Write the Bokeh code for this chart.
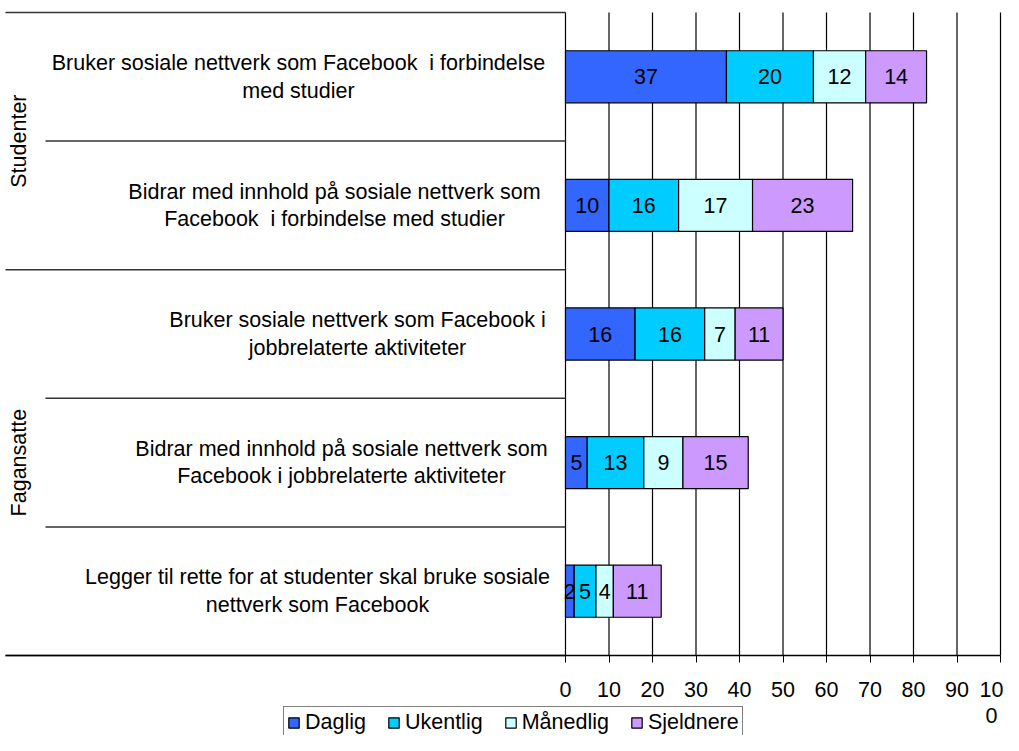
import math
from bokeh.plotting import figure
from bokeh.models import (Range1d, FixedTicker, Label, ColumnDataSource, Legend,
                          LegendItem)
from bokeh.embed import file_html
from bokeh.resources import INLINE
from bokeh.core.properties import value

# ---------------- data ----------------
groups = ["Studenter", "Fagansatte"]
group_sizes = [2, 3]
questions = [
    "Bruker sosiale nettverk som Facebook\u00a0 i forbindelse\nmed studier",
    "Bidrar med innhold på sosiale nettverk som\nFacebook\u00a0 i forbindelse med studier",
    "Bruker sosiale nettverk som Facebook i\njobbrelaterte aktiviteter",
    "Bidrar med innhold på sosiale nettverk som\nFacebook i jobbrelaterte aktiviteter",
    "Legger til rette for at studenter skal bruke sosiale\nnettverk som Facebook",
]
series = ["Daglig", "Ukentlig", "Månedlig", "Sjeldnere"]
daglig = [37, 10, 16, 5, 2]
ukentlig = [20, 16, 16, 13, 5]
manedlig = [12, 17, 7, 9, 4]
sjeldnere = [14, 23, 11, 15, 11]
x_ticks = [0, 10, 20, 30, 40, 50, 60, 70, 80, 90, 100]
x_tick_labels = ["0", "10", "20", "30", "40", "50", "60", "70", "80", "90", "10\n0"]

# ---------------- style / layout ----------------
colors = ["#3366FF", "#00CCFF", "#CCFFFF", "#CC99FF"]
FONT = "Liberation Sans"
FS = "21.5px"
W, H = 1003, 735
ZERO_PX = 565      # canvas x of value 0
PLOT_PX = 435      # px from 0 to 100
TOP_PX = 12        # canvas y of top of first row
ROW_PX = 128.6     # height of one row
n = len(questions)
ppx = PLOT_PX / 100.0
x_start = -ZERO_PX / ppx
x_end = (W - ZERO_PX) / ppx
y_top = n - 0.5 + TOP_PX / ROW_PX
y_bot = n - 0.5 - H / ROW_PX + TOP_PX / ROW_PX

values = [daglig, ukentlig, manedlig, sjeldnere]
ys = [n - 1 - i for i in range(n)]

data = {"y": ys}
for s, v in zip(series, values):
    data[s] = v
source = ColumnDataSource(data)

p = figure(width=W, height=H, output_backend="svg", toolbar_location=None,
           x_range=Range1d(x_start, x_end), y_range=Range1d(y_bot, y_top),
           y_axis_location=None, min_border=0)
p.outline_line_color = None
p.background_fill_color = "white"
p.border_fill_color = "white"
p.xgrid.visible = False
p.ygrid.visible = False

# x axis, drawn at the bottom of the last row
ax = p.xaxis[0]
ax.fixed_location = -0.5
ax.bounds = (x_start + 5 / ppx, 100)
ax.ticker = FixedTicker(ticks=x_ticks)
ax.major_label_overrides = {t: l for t, l in zip(x_ticks, x_tick_labels)}
ax.axis_line_color = "black"
ax.axis_line_width = 1.3
ax.major_tick_line_color = "black"
ax.major_tick_out = 7
ax.major_tick_in = 0
ax.minor_tick_line_color = None
ax.major_label_text_font = FONT
ax.major_label_text_font_size = FS
ax.major_label_text_color = "black"
ax.major_label_text_line_height = 1.1
ax.major_label_standoff = 15

# vertical grid lines from the ticks
p.segment(x0=x_ticks, x1=x_ticks, y0=[-0.5] * len(x_ticks), y1=[n - 0.5] * len(x_ticks),
          line_color="black", line_width=1.2)

# bars
renderers = p.hbar_stack(series, y="y", height=0.405, color=colors, source=source,
                         line_color="black", line_width=1.2)

# value labels
for k, s in enumerate(series):
    lefts = [sum(values[j][i] for j in range(k)) for i in range(n)]
    cx = [l + v / 2 for l, v in zip(lefts, values[k])]
    p.text(x=cx, y=ys, text=[str(v) for v in values[k]], text_font=value(FONT),
           text_font_size=FS, text_color="black", text_align="center",
           text_baseline="middle")

# table lines at left
full_x0 = x_start + 5 / ppx
short_x0 = x_start + 45 / ppx
bounds_full = [n - 0.5]
bounds_short = []
acc = 0
for gi, gs in enumerate(group_sizes):
    for r in range(1, gs):
        bounds_short.append(n - 0.5 - (acc + r))
    acc += gs
    if gi < len(group_sizes) - 1:
        bounds_full.append(n - 0.5 - acc)
bounds_full.append(-0.5)
p.segment(x0=[full_x0] * len(bounds_full), x1=[0] * len(bounds_full),
          y0=bounds_full, y1=bounds_full, line_color="#333333", line_width=1.5)
p.segment(x0=[short_x0] * len(bounds_short), x1=[0] * len(bounds_short),
          y0=bounds_short, y1=bounds_short, line_color="#333333", line_width=1.5)

# question labels
label_cx = [298, 334, 357, 341, 317]
for q, y, cxs in zip(questions, ys, label_cx):
    p.add_layout(Label(x=cxs, x_units="screen", y=y, y_units="data", text=q,
                       text_font=FONT, text_font_size=FS, text_color="black",
                       text_align="center", text_baseline="middle",
                       text_line_height=1.15))

# group labels
acc = 0
for g, gs in zip(groups, group_sizes):
    yc = n - 0.5 - acc - gs / 2.0
    p.add_layout(Label(x=18, x_units="screen", y=yc, y_units="data", text=g,
                       angle=math.pi / 2, text_font=FONT, text_font_size=FS,
                       text_color="black", text_align="center",
                       text_baseline="middle"))
    acc += gs

# legend
legend = Legend(items=[LegendItem(label=s, renderers=[r]) for s, r in zip(series, renderers)],
                location=(283, -4), orientation="horizontal",
                border_line_color="black", border_line_width=1, padding=3,
                spacing=21, glyph_width=13, glyph_height=13, label_standoff=5,
                label_text_font=FONT, label_text_font_size=FS, label_height=20,
                label_text_line_height=1.0,
                margin=0, background_fill_alpha=1, label_text_color="black")
p.add_layout(legend)

open("out.html", "w").write(file_html(p, INLINE))
